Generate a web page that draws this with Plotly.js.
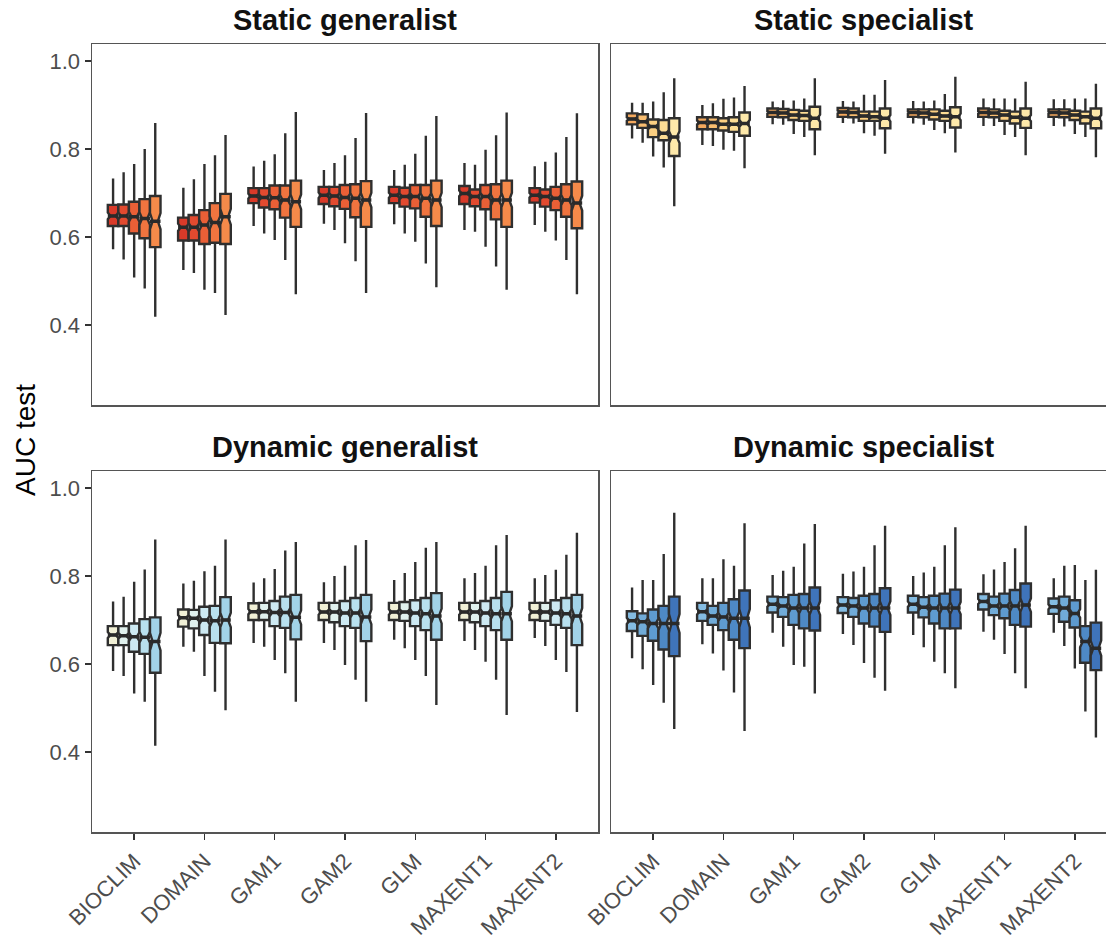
<!DOCTYPE html>
<html>
<head>
<meta charset="utf-8">
<script src="https://cdn.plot.ly/plotly-3.0.1.min.js"></script>
<style>
  html, body { margin: 0; padding: 0; overflow: hidden; background: #ffffff; }
  #chart { width: 1120px; height: 939px; }
</style>
</head>
<body>
<div id="chart"></div>
<script>
// Model names along the x axis of every panel
const models = ['BIOCLIM', 'DOMAIN', 'GAM1', 'GAM2', 'GLM', 'MAXENT1', 'MAXENT2'];

// Facet titles
const panelTitles = ['Static generalist', 'Static specialist', 'Dynamic generalist', 'Dynamic specialist'];

// Replicates behind each box (used for the McGill notch: 1.58 * IQR / sqrt(n))
const nReplicates = 100;

// Each stat array: one row per size class (5 rows), one value per model (7 columns)

// ---- Static generalist ----
const staticGenHi = [
  [0.733, 0.712, 0.760, 0.752, 0.752, 0.768, 0.761],
  [0.747, 0.731, 0.773, 0.768, 0.764, 0.764, 0.771],
  [0.766, 0.766, 0.788, 0.786, 0.789, 0.798, 0.792],
  [0.800, 0.786, 0.836, 0.825, 0.830, 0.831, 0.827],
  [0.859, 0.832, 0.884, 0.882, 0.875, 0.883, 0.881]
];
const staticGenQ3 = [
  [0.673, 0.644, 0.711, 0.714, 0.714, 0.716, 0.711],
  [0.674, 0.650, 0.711, 0.714, 0.712, 0.708, 0.708],
  [0.680, 0.661, 0.717, 0.718, 0.718, 0.718, 0.714],
  [0.686, 0.677, 0.717, 0.720, 0.718, 0.720, 0.720],
  [0.693, 0.698, 0.728, 0.727, 0.728, 0.728, 0.726]
];
const staticGenMed = [
  [0.648, 0.622, 0.693, 0.695, 0.695, 0.699, 0.695],
  [0.648, 0.622, 0.690, 0.693, 0.692, 0.692, 0.692],
  [0.646, 0.627, 0.689, 0.690, 0.692, 0.692, 0.688],
  [0.642, 0.633, 0.684, 0.688, 0.688, 0.684, 0.684],
  [0.636, 0.646, 0.680, 0.684, 0.684, 0.684, 0.677]
];
const staticGenQ1 = [
  [0.625, 0.592, 0.677, 0.675, 0.677, 0.675, 0.678],
  [0.625, 0.592, 0.667, 0.670, 0.669, 0.670, 0.669],
  [0.608, 0.584, 0.663, 0.664, 0.665, 0.663, 0.661],
  [0.597, 0.587, 0.644, 0.645, 0.646, 0.640, 0.646],
  [0.577, 0.584, 0.623, 0.623, 0.625, 0.623, 0.620]
];
const staticGenLo = [
  [0.572, 0.525, 0.625, 0.630, 0.629, 0.616, 0.627],
  [0.549, 0.518, 0.608, 0.616, 0.608, 0.612, 0.612],
  [0.508, 0.480, 0.593, 0.586, 0.589, 0.578, 0.592],
  [0.483, 0.473, 0.548, 0.545, 0.540, 0.533, 0.548],
  [0.419, 0.423, 0.470, 0.473, 0.486, 0.480, 0.470]
];
const staticGenColors = ['#d93a29', '#e24a2f', '#ea5f36', '#f0743f', '#f58a4a'];

// ---- Static specialist ----
const staticSpecHi = [
  [0.905, 0.900, 0.908, 0.909, 0.909, 0.915, 0.913],
  [0.905, 0.904, 0.911, 0.908, 0.908, 0.915, 0.913],
  [0.908, 0.914, 0.910, 0.923, 0.910, 0.915, 0.915],
  [0.929, 0.917, 0.915, 0.923, 0.925, 0.915, 0.915],
  [0.961, 0.943, 0.961, 0.957, 0.964, 0.953, 0.948]
];
const staticSpecQ3 = [
  [0.881, 0.872, 0.892, 0.893, 0.890, 0.892, 0.890],
  [0.879, 0.872, 0.891, 0.892, 0.890, 0.890, 0.890],
  [0.867, 0.870, 0.889, 0.885, 0.890, 0.887, 0.887],
  [0.866, 0.872, 0.887, 0.885, 0.887, 0.885, 0.885],
  [0.870, 0.883, 0.896, 0.892, 0.895, 0.892, 0.892]
];
const staticSpecMed = [
  [0.868, 0.860, 0.883, 0.884, 0.883, 0.883, 0.883],
  [0.862, 0.860, 0.882, 0.883, 0.882, 0.882, 0.882],
  [0.851, 0.856, 0.877, 0.875, 0.879, 0.877, 0.877],
  [0.836, 0.856, 0.876, 0.873, 0.875, 0.872, 0.873],
  [0.827, 0.858, 0.870, 0.870, 0.873, 0.870, 0.870]
];
const staticSpecQ1 = [
  [0.856, 0.845, 0.873, 0.873, 0.873, 0.873, 0.873],
  [0.848, 0.845, 0.872, 0.872, 0.872, 0.872, 0.872],
  [0.827, 0.842, 0.866, 0.864, 0.867, 0.864, 0.866],
  [0.820, 0.839, 0.864, 0.864, 0.864, 0.858, 0.858],
  [0.784, 0.830, 0.845, 0.847, 0.849, 0.848, 0.847]
];
const staticSpecLo = [
  [0.824, 0.809, 0.856, 0.859, 0.858, 0.852, 0.852],
  [0.814, 0.807, 0.855, 0.858, 0.855, 0.852, 0.851],
  [0.783, 0.798, 0.834, 0.836, 0.843, 0.832, 0.834],
  [0.758, 0.796, 0.827, 0.830, 0.836, 0.827, 0.827],
  [0.670, 0.756, 0.786, 0.789, 0.792, 0.786, 0.781]
];
const staticSpecColors = ['#f4a95e', '#f8bd70', '#fbcf82', '#fddd95', '#fee9aa'];

// ---- Dynamic generalist ----
const dynGenHi = [
  [0.742, 0.783, 0.785, 0.786, 0.791, 0.795, 0.795],
  [0.753, 0.789, 0.795, 0.800, 0.807, 0.807, 0.802],
  [0.787, 0.811, 0.816, 0.823, 0.832, 0.823, 0.814],
  [0.815, 0.823, 0.858, 0.870, 0.864, 0.870, 0.848],
  [0.883, 0.883, 0.877, 0.882, 0.877, 0.893, 0.898]
];
const dynGenQ3 = [
  [0.686, 0.724, 0.738, 0.739, 0.739, 0.739, 0.739],
  [0.686, 0.723, 0.739, 0.739, 0.741, 0.739, 0.739],
  [0.692, 0.730, 0.743, 0.743, 0.745, 0.743, 0.745],
  [0.702, 0.732, 0.753, 0.750, 0.750, 0.750, 0.750],
  [0.706, 0.752, 0.757, 0.757, 0.761, 0.764, 0.757]
];
const dynGenMed = [
  [0.666, 0.705, 0.719, 0.718, 0.718, 0.718, 0.718],
  [0.664, 0.704, 0.719, 0.718, 0.718, 0.718, 0.718],
  [0.662, 0.700, 0.717, 0.716, 0.716, 0.716, 0.716],
  [0.661, 0.698, 0.717, 0.716, 0.714, 0.714, 0.714],
  [0.651, 0.700, 0.706, 0.707, 0.709, 0.714, 0.709]
];
const dynGenQ1 = [
  [0.643, 0.685, 0.700, 0.700, 0.700, 0.700, 0.700],
  [0.643, 0.681, 0.700, 0.695, 0.698, 0.695, 0.698],
  [0.628, 0.666, 0.686, 0.686, 0.686, 0.686, 0.689],
  [0.623, 0.648, 0.682, 0.682, 0.677, 0.677, 0.682],
  [0.580, 0.647, 0.656, 0.652, 0.655, 0.655, 0.643]
];
const dynGenLo = [
  [0.584, 0.639, 0.648, 0.648, 0.655, 0.652, 0.659],
  [0.573, 0.628, 0.639, 0.632, 0.636, 0.632, 0.641],
  [0.533, 0.573, 0.609, 0.598, 0.609, 0.605, 0.609],
  [0.514, 0.537, 0.579, 0.564, 0.573, 0.564, 0.582],
  [0.414, 0.495, 0.514, 0.514, 0.507, 0.484, 0.491]
];
const dynGenColors = ['#f1f0d6', '#e1f1ee', '#cde9f2', '#b8e0ee', '#a2d3e8'];

// ---- Dynamic specialist ----
const dynSpecHi = [
  [0.774, 0.795, 0.802, 0.805, 0.800, 0.804, 0.795],
  [0.791, 0.795, 0.812, 0.810, 0.808, 0.815, 0.823],
  [0.791, 0.838, 0.821, 0.821, 0.821, 0.832, 0.825],
  [0.850, 0.823, 0.874, 0.870, 0.870, 0.863, 0.791],
  [0.944, 0.920, 0.918, 0.914, 0.911, 0.914, 0.814]
];
const dynSpecQ3 = [
  [0.720, 0.739, 0.753, 0.752, 0.755, 0.759, 0.749],
  [0.715, 0.732, 0.752, 0.750, 0.752, 0.753, 0.753],
  [0.724, 0.739, 0.757, 0.755, 0.755, 0.760, 0.745],
  [0.732, 0.747, 0.759, 0.759, 0.760, 0.768, 0.686],
  [0.753, 0.767, 0.774, 0.772, 0.769, 0.783, 0.694]
];
const dynSpecMed = [
  [0.698, 0.719, 0.736, 0.734, 0.736, 0.742, 0.730],
  [0.696, 0.709, 0.732, 0.732, 0.729, 0.732, 0.727],
  [0.692, 0.707, 0.727, 0.727, 0.727, 0.732, 0.715],
  [0.692, 0.704, 0.727, 0.727, 0.727, 0.732, 0.651],
  [0.692, 0.704, 0.727, 0.727, 0.727, 0.734, 0.636]
];
const dynSpecQ1 = [
  [0.675, 0.698, 0.717, 0.716, 0.717, 0.724, 0.714],
  [0.664, 0.689, 0.707, 0.707, 0.706, 0.711, 0.696],
  [0.653, 0.677, 0.689, 0.692, 0.692, 0.704, 0.683],
  [0.633, 0.655, 0.681, 0.685, 0.681, 0.689, 0.603],
  [0.618, 0.636, 0.676, 0.673, 0.681, 0.685, 0.586]
];
const dynSpecLo = [
  [0.613, 0.645, 0.671, 0.668, 0.666, 0.673, 0.671],
  [0.588, 0.624, 0.639, 0.643, 0.638, 0.655, 0.641],
  [0.552, 0.585, 0.598, 0.602, 0.605, 0.623, 0.590],
  [0.512, 0.535, 0.594, 0.569, 0.579, 0.579, 0.492],
  [0.452, 0.448, 0.533, 0.539, 0.545, 0.545, 0.433]
];
const dynSpecColors = ['#84bce2', '#70abd8', '#5e9bd0', '#4e89c5', '#3f74ba'];

// Y axis ticks
const yTickVals = [0.4, 0.6, 0.8, 1.0];
const yTickText = ['0.4', '0.6', '0.8', '1.0'];

// ---------------------------------------------------------------------------
const panels = [
  { hi: staticGenHi,  q3: staticGenQ3,  med: staticGenMed,  q1: staticGenQ1,  lo: staticGenLo,  colors: staticGenColors,  xa: 'x',  ya: 'y'  },
  { hi: staticSpecHi, q3: staticSpecQ3, med: staticSpecMed, q1: staticSpecQ1, lo: staticSpecLo, colors: staticSpecColors, xa: 'x2', ya: 'y2' },
  { hi: dynGenHi,     q3: dynGenQ3,     med: dynGenMed,     q1: dynGenQ1,     lo: dynGenLo,     colors: dynGenColors,     xa: 'x3', ya: 'y3' },
  { hi: dynSpecHi,    q3: dynSpecQ3,    med: dynSpecMed,    q1: dynSpecQ1,    lo: dynSpecLo,    colors: dynSpecColors,    xa: 'x4', ya: 'y4' }
];

const outline = '#2f2f2f';
const traces = [];
const medianBars = [];
panels.forEach(function (p, pi) {
  for (let k = 0; k < 5; k++) {
    const notch = p.q3[k].map(function (v, i) {
      return 1.58 * (v - p.q1[k][i]) / Math.sqrt(nReplicates);
    });
    const common = {
      type: 'box',
      x: models,
      xaxis: p.xa,
      yaxis: p.ya,
      alignmentgroup: 'panel' + pi,
      offsetgroup: 'size' + k,
      boxpoints: false,
      whiskerwidth: 0,
      showlegend: false,
      hoverinfo: 'skip'
    };
    // notched box with whiskers
    traces.push(Object.assign({}, common, {
      q1: p.q1[k],
      median: p.med[k],
      q3: p.q3[k],
      lowerfence: p.lo[k],
      upperfence: p.hi[k],
      notchspan: notch,
      notched: true,
      notchwidth: 0.25,
      fillcolor: p.colors[k],
      line: { color: outline, width: 2.4 }
    }));
    // heavier median stroke
    medianBars.push(Object.assign({}, common, {
      q1: p.med[k],
      median: p.med[k],
      q3: p.med[k],
      lowerfence: p.med[k],
      upperfence: p.med[k],
      fillcolor: 'rgba(0,0,0,0)',
      line: { color: '#2a2a2a', width: 3.5 }
    }));
  }
});

// Panel frames in pixels, converted to paper fractions
const W = 1120, H = 939;
const colL = [92 / W, 598 / W];
const colR = [611 / W, 1117 / W];
const rowT = [(H - 405) / H, (H - 44) / H];
const rowB = [(H - 832) / H, (H - 471) / H];
const yRange = [0.2182, 1.0386];
const xRange = [-0.6, 6.6];

const frame = { showline: true, mirror: true, linecolor: '#555555', linewidth: 1.5, showgrid: false, zeroline: false };
const tickFont = { family: 'Liberation Sans, Arial, sans-serif', size: 22, color: '#4d4d4d' };

function xAxis(domain, anchor, labelled) {
  return Object.assign({}, frame, {
    domain: domain, anchor: anchor, type: 'category',
    categoryorder: 'array', categoryarray: models, range: xRange,
    showticklabels: labelled, ticks: labelled ? 'outside' : '',
    ticklen: 6, tickwidth: 1.5, tickcolor: '#333333',
    tickangle: -45, tickfont: tickFont
  });
}
function yAxis(domain, anchor, labelled) {
  return Object.assign({}, frame, {
    domain: domain, anchor: anchor, range: yRange,
    tickvals: yTickVals, ticktext: yTickText,
    showticklabels: labelled, ticks: labelled ? 'outside' : '',
    ticklen: 6, tickwidth: 1.5, tickcolor: '#333333', tickfont: tickFont
  });
}

const titleFont = { family: 'Liberation Sans, Arial, sans-serif', size: 29, color: '#111111', weight: 'bold' };
const annotations = [
  { text: panelTitles[0], x: (colL[0] + colL[1]) / 2, y: (H - 20) / H },
  { text: panelTitles[1], x: (colR[0] + colR[1]) / 2, y: (H - 20) / H },
  { text: panelTitles[2], x: (colL[0] + colL[1]) / 2, y: (H - 447) / H },
  { text: panelTitles[3], x: (colR[0] + colR[1]) / 2, y: (H - 447) / H }
].map(function (a) {
  return Object.assign(a, { xref: 'paper', yref: 'paper', xanchor: 'center', yanchor: 'middle', showarrow: false, font: titleFont });
});
annotations.push({
  text: 'AUC test', xref: 'paper', yref: 'paper', x: 25 / W, y: (H - 440) / H,
  xanchor: 'center', yanchor: 'middle', textangle: -90, showarrow: false,
  font: { family: 'Liberation Sans, Arial, sans-serif', size: 28, color: '#000000' }
});

const layout = {
  width: W, height: H,
  margin: { l: 0, r: 0, t: 0, b: 0 },
  paper_bgcolor: '#ffffff', plot_bgcolor: '#ffffff',
  boxmode: 'group', boxgap: 0.25, boxgroupgap: 0,
  showlegend: false,
  xaxis: xAxis(colL, 'y', false),
  xaxis2: xAxis(colR, 'y2', false),
  xaxis3: xAxis(colL, 'y3', true),
  xaxis4: xAxis(colR, 'y4', true),
  yaxis: yAxis(rowT, 'x', true),
  yaxis2: yAxis(rowT, 'x2', false),
  yaxis3: yAxis(rowB, 'x3', true),
  yaxis4: yAxis(rowB, 'x4', false),
  annotations: annotations
};

Plotly.newPlot('chart', traces.concat(medianBars), layout, { displayModeBar: false, staticPlot: true });
</script>
</body>
</html>
